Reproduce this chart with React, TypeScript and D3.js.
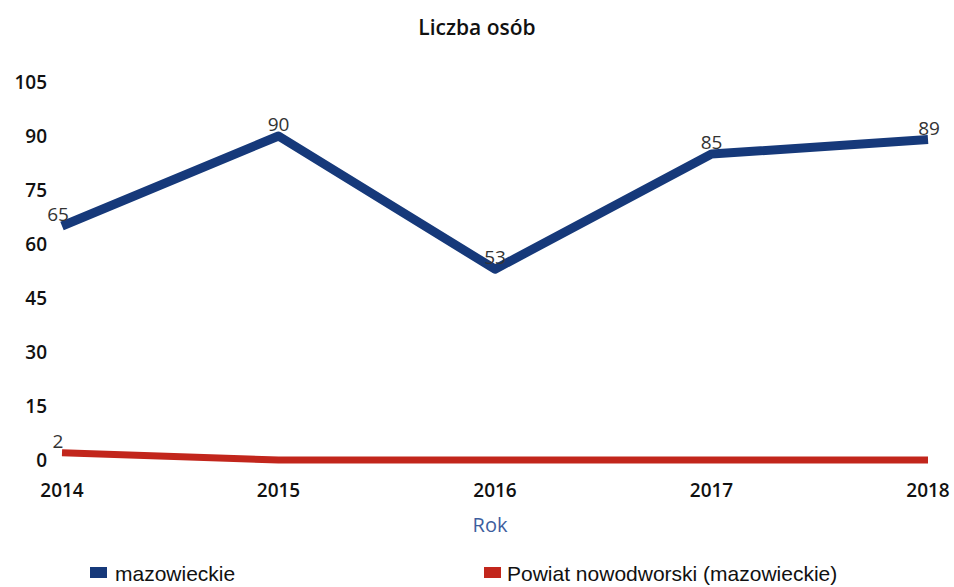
import React from 'react';
import * as d3 from 'd3';

const years = ['2014', '2015', '2016', '2017', '2018'];
const mazowieckie = [65, 90, 53, 85, 89];
const nowodworski = [2, 0, 0, 0, 0];
const yTicks = [0, 15, 30, 45, 60, 75, 90, 105];

const W = 954;
const H = 587;
const FONT = '"Open Sans", "Noto Sans", sans-serif';

const App: React.FC = () => {
  const x = d3.scalePoint<string>().domain(years).range([62, 928]);
  const y = d3.scaleLinear().domain([0, 105]).range([460, 82]);

  const line = d3.line<number>()
    .x((_, i) => x(years[i]) || 0)
    .y((d) => y(d));

  const series = [
    { name: 'mazowieckie', values: mazowieckie, color: '#16397a', width: 9 },
    { name: 'Powiat nowodworski (mazowieckie)', values: nowodworski, color: '#c2261c', width: 7 },
  ];

  return (
    <svg width={W} height={H} style={{ position: 'absolute', left: 0, top: 0, background: '#fff' }}>
      <text x={477} y={35} textAnchor="middle" fontFamily={FONT} fontSize={21} fontWeight={600} fill="#111">
        Liczba osób
      </text>

      {/* y axis ticks */}
      {yTicks.map((t) => (
        <text key={t} x={47} y={y(t) + 7} textAnchor="end" fontFamily={FONT} fontSize={19} fontWeight={600} fill="#111">
          {t}
        </text>
      ))}

      {/* x axis ticks */}
      {years.map((yr) => (
        <text key={yr} x={x(yr)} y={497} textAnchor="middle" fontFamily={FONT} fontSize={19} fontWeight={600} fill="#111">
          {yr}
        </text>
      ))}

      <text x={490} y={532} textAnchor="middle" fontFamily={FONT} fontSize={20} fill="#3d5e9e">
        Rok
      </text>

      {/* lines */}
      {series.slice().reverse().map((s) => (
        <path key={s.name} d={line(s.values) || ''} fill="none" stroke={s.color}
          strokeWidth={s.width} strokeLinejoin="round" strokeLinecap="butt" />
      ))}

      {/* data labels */}
      {series.map((s) =>
        s.values.map((v, i) => v === 0 ? null : (
          <text key={s.name + i} x={(x(years[i]) || 0) - (i === 0 ? 4 : i === years.length - 1 ? -1 : 0)} y={y(v) - 5}
            textAnchor="middle" fontFamily={FONT} fontSize={19} fill="#333">
            {v}
          </text>
        ))
      )}

      {/* legend */}
      <rect x={90} y={567} width={17} height={11} fill="#16397a" />
      <text x={115} y={581} fontFamily='"Liberation Sans", Arial, sans-serif' fontSize={21} fill="#111">mazowieckie</text>
      <rect x={484} y={567} width={17} height={11} fill="#c2261c" />
      <text x={507} y={581} fontFamily='"Liberation Sans", Arial, sans-serif' fontSize={21} fill="#111">
        Powiat nowodworski (mazowieckie)
      </text>
    </svg>
  );
};

export default App;
